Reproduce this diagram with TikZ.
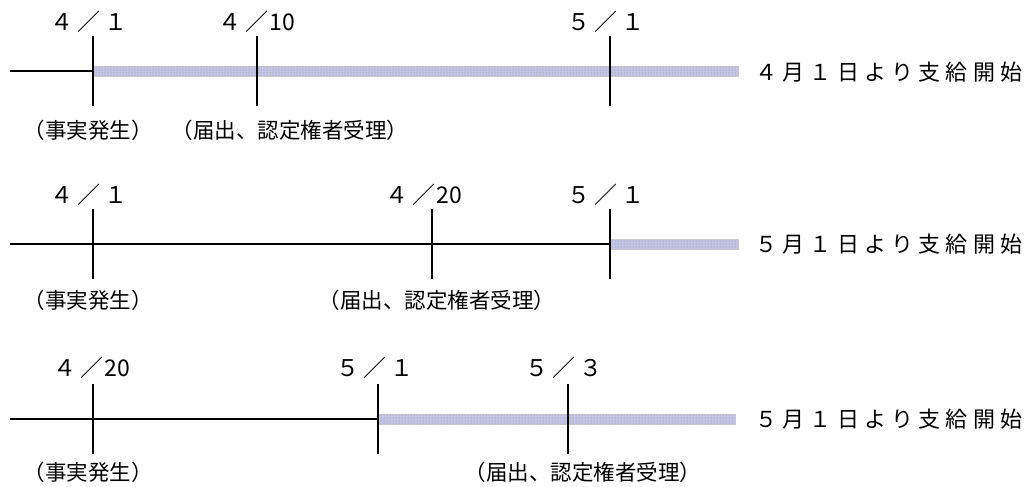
\documentclass[tikz,border=0pt]{standalone}
\usepackage{fontspec}
\setmainfont{Noto Sans CJK JP}
\newfontfamily\lsfont[LetterSpace=24]{Noto Sans CJK JP}
\usetikzlibrary{patterns}
\definecolor{barcol}{RGB}{196,196,228}
\definecolor{dotcol}{RGB}{130,130,160}
\newcommand\dlab[2]{#1\kern4pt／\kern4pt#2}
\newcommand\dlabh[2]{#1\kern4pt／\kern1pt#2}
\begin{document}
\begin{tikzpicture}[x=1pt,y=-1pt,
  axisline/.style={line width=1.8pt,black},
  tickline/.style={line width=1.8pt,black},
  barfill/.style={fill=barcol,draw=gray!40,line width=0.4pt,postaction={pattern=dots,pattern color=dotcol}},
  datelbl/.style={font=\fontsize{23}{23}\selectfont,inner sep=0pt},
  evlbl/.style={font=\fontsize{21.5}{21.5}\selectfont,inner sep=0pt},
  reslbl/.style={font=\lsfont\fontsize{22}{22}\selectfont,anchor=west,inner sep=0pt}]
\useasboundingbox (0,0) rectangle (1031,487);

% ---------- Row 1 ----------
\coordinate (r1s) at (10,71);
\coordinate (r1a) at (93,71);
\coordinate (r1b) at (257,71);
\coordinate (r1c) at (610,71);
\coordinate (r1e) at (738,71);
\fill[barfill] ([yshift=-5]r1a) rectangle ([yshift=5]r1e);
\draw[axisline] (r1s) -- (r1a);
\foreach \p in {r1a,r1b,r1c}{\draw[tickline] ([yshift=-35]\p) -- ([yshift=35]\p);}
\node[datelbl] (d11) at (89,22) {\dlab{４}{１}};
\node[datelbl] (d12) at (257,22) {\dlabh{４}{10}};
\node[datelbl] (d13) at (606,22) {\dlab{５}{１}};
\node[evlbl] (e11) at (88,130) {（事実発生）};
\node[evlbl] (e12) at (290,130) {（届出、認定権者受理）};
\node[reslbl] (t1) at (755,72) {４月１日より支給開始};

% ---------- Row 2 ----------
\coordinate (r2s) at (10,244);
\coordinate (r2a) at (93,244);
\coordinate (r2b) at (432,244);
\coordinate (r2c) at (610,244);
\coordinate (r2e) at (738,244);
\fill[barfill] ([yshift=-5]r2c) rectangle ([yshift=5]r2e);
\draw[axisline] (r2s) -- (r2c);
\foreach \p in {r2a,r2b,r2c}{\draw[tickline] ([yshift=-35]\p) -- ([yshift=35]\p);}
\node[datelbl] (d21) at (89,195) {\dlab{４}{１}};
\node[datelbl] (d22) at (424,195) {\dlabh{４}{20}};
\node[datelbl] (d23) at (606,195) {\dlab{５}{１}};
\node[evlbl] (e21) at (88,300) {（事実発生）};
\node[evlbl] (e22) at (437,300) {（届出、認定権者受理）};
\node[reslbl] (t2) at (755,244) {５月１日より支給開始};

% ---------- Row 3 ----------
\coordinate (r3s) at (10,419);
\coordinate (r3a) at (93,419);
\coordinate (r3b) at (378,419);
\coordinate (r3c) at (568,419);
\coordinate (r3e) at (735,419);
\fill[barfill] ([yshift=-5]r3b) rectangle ([yshift=5]r3e);
\draw[axisline] (r3s) -- (r3b);
\foreach \p in {r3a,r3b,r3c}{\draw[tickline] ([yshift=-35]\p) -- ([yshift=35]\p);}
\node[datelbl] (d31) at (92,368) {\dlabh{４}{20}};
\node[datelbl] (d32) at (375,368) {\dlab{５}{１}};
\node[datelbl] (d33) at (564,368) {\dlab{５}{３}};
\node[evlbl] (e31) at (88,472) {（事実発生）};
\node[evlbl] (e32) at (583,472) {（届出、認定権者受理）};
\node[reslbl] (t3) at (755,419) {５月１日より支給開始};
\end{tikzpicture}
\end{document}
